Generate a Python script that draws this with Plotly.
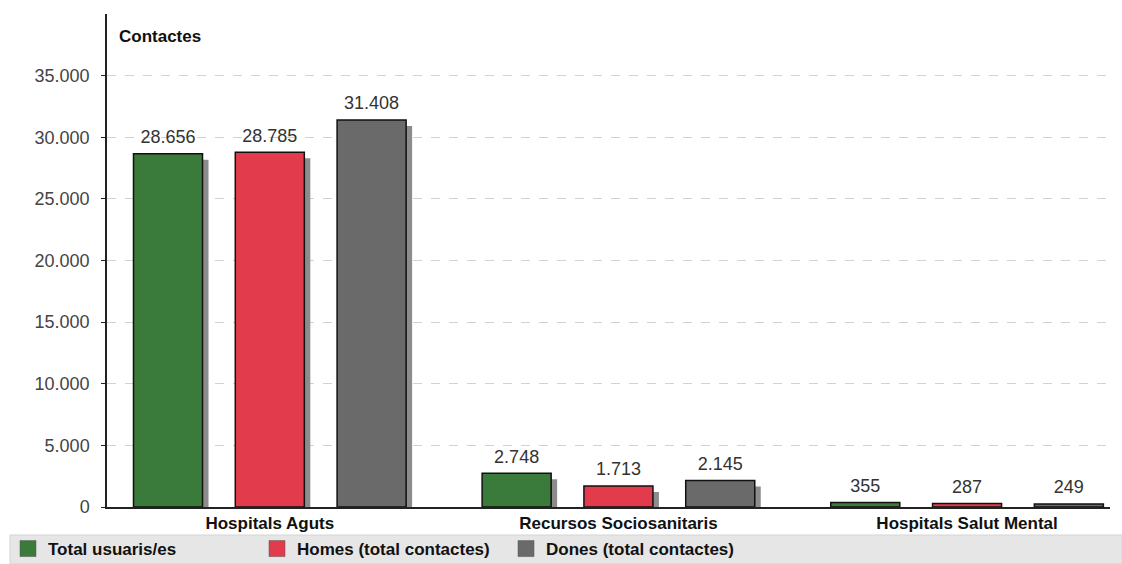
import plotly.graph_objects as go

# dades
categories = ["Hospitals Aguts", "Recursos Sociosanitaris", "Hospitals Salut Mental"]
total_usuaris = [28656, 2748, 355]
homes = [28785, 1713, 287]
dones = [31408, 2145, 249]
series_names = ["Total usuaris/es", "Homes (total contactes)", "Dones (total contactes)"]
y_ticks = [0, 5000, 10000, 15000, 20000, 25000, 30000, 35000]

colors = ["#3a7a3a", "#e23c4c", "#6a6a6a"]
x_pos = list(range(len(categories)))

slot = 0.292
bw = 0.198
dx = 6 / 349      # ombra: 6 px a la dreta
dy = 487          # ombra: 6 px avall (en unitats de l'eix y)

fig = go.Figure()

series = [total_usuaris, homes, dones]

# ombres primer (queden darrere)
for i, vals in enumerate(series):
    fig.add_trace(go.Bar(
        x=x_pos, y=vals, base=-dy,
        width=bw, offset=(i - 1) * slot - bw / 2 + dx,
        marker=dict(color="#8c8c8c", line=dict(width=0)),
        showlegend=False, hoverinfo="skip",
    ))

for i, vals in enumerate(series):
    fig.add_trace(go.Bar(
        x=x_pos, y=vals, name=series_names[i],
        width=bw, offset=(i - 1) * slot - bw / 2,
        marker=dict(color=colors[i], line=dict(color="#111111", width=1.5)),
        showlegend=False,
    ))

# etiquetes de valor sobre les barres
for i, vals in enumerate(series):
    fig.add_trace(go.Scatter(
        x=[p + (i - 1) * slot for p in x_pos], y=vals,
        mode="markers+text", text=vals, texttemplate="%{y:,}",
        textposition="top center",
        marker=dict(size=8, opacity=0),
        textfont=dict(family="Liberation Sans", size=18, color="#333333"),
        cliponaxis=False, showlegend=False, hoverinfo="skip",
    ))

# llegenda amb quadrats grans
for i, nm in enumerate(series_names):
    fig.add_trace(go.Scatter(
        x=[None], y=[None], mode="markers", name=nm,
        marker=dict(symbol="square", size=22, color=colors[i],
                    line=dict(color="#555555", width=0.5)),
    ))

fig.update_layout(
    width=1122, height=564,
    margin=dict(l=107, r=12, t=14, b=57, autoexpand=False),
    plot_bgcolor="white", paper_bgcolor="white",
    barmode="overlay",
    separators=",.",
    font=dict(family="Liberation Sans", color="#333333"),
    showlegend=True,
    legend=dict(
        orientation="h", xref="container", yref="container",
        x=8 / 1122, y=(564 - 549) / 564, xanchor="left", yanchor="middle",
        bgcolor="rgba(0,0,0,0)",
        entrywidth=204, entrywidthmode="pixels",
        font=dict(family="Liberation Sans", size=17, color="#111111", weight="bold"),
    ),
    shapes=[dict(
        type="rect", xref="paper", yref="paper",
        x0=-0.0967, x1=1.012, y0=-0.1156, y1=-0.0568,
        fillcolor="#e6e6e6", line=dict(color="#d4d4d4", width=1), layer="below",
    )],
    annotations=[dict(
        text="<b>Contactes</b>", xref="paper", yref="paper",
        x=0.01, y=0.955, xanchor="left", yanchor="middle", showarrow=False,
        font=dict(family="Liberation Sans", size=17, color="#111111"),
    )],
)

fig.update_xaxes(
    range=[-0.467, 2.41], automargin=False,
    tickvals=x_pos, ticktext=categories,
    tickfont=dict(family="Liberation Sans", size=17, color="#111111", weight="bold"),
    ticks="", showgrid=False, zeroline=False,
    showline=True, linecolor="#222222", linewidth=1.5,
)

fig.update_yaxes(
    range=[0, 40000], automargin=False,
    tickvals=y_ticks, tickformat=",",
    tickfont=dict(family="Liberation Sans", size=18, color="#444444"),
    ticks="outside", ticklen=4, tickcolor="#222222",
    ticklabelstandoff=8,
    showgrid=True, gridcolor="#d2d2d2", griddash="dash", gridwidth=1,
    zeroline=False,
    showline=True, linecolor="#222222", linewidth=1.5,
)

# treure el marge per defecte del body perquè el gràfic comenci a (0,0)
fig.write_html("out.html", config={"displayModeBar": False},
               post_script="document.body.style.margin='0';")
